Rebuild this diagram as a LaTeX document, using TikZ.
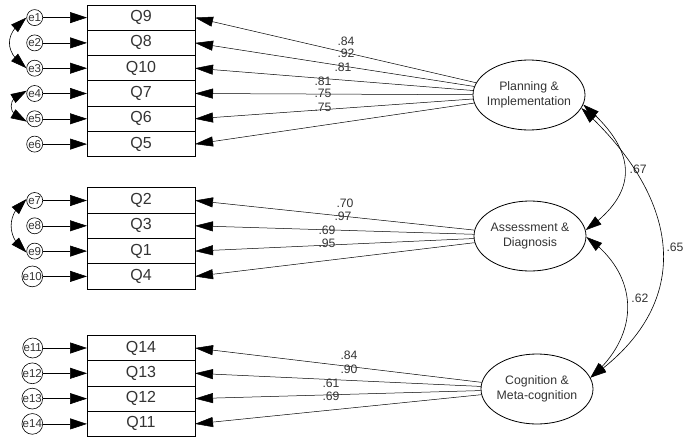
\documentclass[tikz,border=0pt]{standalone}
\usepackage{fontspec}
\setmainfont{Liberation Sans}
\usetikzlibrary{arrows.meta, bending, shapes, positioning}
\tikzstyle{indicador} = [draw, thick, rectangle, minimum width=108pt, minimum height=25.3pt, inner sep=0pt, outer sep=0pt, text=black!80, font=\fontsize{16}{16}\selectfont]
\tikzstyle{residuo} = [draw, semithick, circle, minimum size=16pt, inner sep=0pt, text=black!80, font=\fontsize{11.5}{11.5}\selectfont]
\tikzstyle{factor} = [draw, thick, ellipse, minimum width=112pt, minimum height=70pt, inner xsep=-4pt, inner ysep=0pt, align=center, text=black!80, font=\fontsize{12.3}{15.5}\selectfont]
\tikzstyle{carga} = [text=black!80, inner sep=0pt, font=\fontsize{12.2}{12.2}\selectfont]
\tikzstyle{errflecha} = [semithick, -{Triangle[length=17pt,width=11pt]}]
\tikzstyle{regresion} = [line width=0.5pt, -{Triangle[length=18pt,width=10pt]}]
\tikzstyle{covarianza} = [semithick, {Triangle[length=16pt,width=10pt]}-{Triangle[length=16pt,width=10pt]}]

\begin{document}
\begin{tikzpicture}[x=1pt, y=1pt]
	\useasboundingbox (0,0) rectangle (685,-439);
	% items
	\node[indicador] (q9) at (141,-17.6) {Q9};
	\foreach \q/\p in {8/9, 10/8, 7/10, 6/7, 5/6}
		\node[indicador, below=0pt of q\p] (q\q) {Q\q};
	\node[indicador] (q2) at (141,-200.5) {Q2};
	\foreach \q/\p in {3/2, 1/3, 4/1}
		\node[indicador, below=0pt of q\p] (q\q) {Q\q};
	\node[indicador] (q14) at (141,-348) {Q14};
	\foreach \q/\p in {13/14, 12/13, 11/12}
		\node[indicador, below=0pt of q\p] (q\q) {Q\q};
	% errores
	\foreach \q/\e in {9/1, 8/2, 10/3, 7/4, 6/5, 5/6, 2/7, 3/8, 1/9, 4/10, 14/11, 13/12, 12/13, 11/14}{
		\node[residuo, left=44pt of q\q] (e\e) {e\e};
		\draw[errflecha] (e\e) -- (q\q);
	}
	\draw[covarianza] (e1.west) to[out=215, in=145, looseness=1.4] (e3.west);
	\draw[covarianza] (e4.160) to[out=195, in=165, looseness=1.8] (e5.200);
	\draw[covarianza] (e7.170) to[out=215, in=145, looseness=1.2] (e9.190);
	% factores
	\node[factor] (plan) at (529,-95) {Planning \&\\Implementation};
	\node[factor] (eval) at (530,-236) {Assessment \&\\Diagnosis};
	\node[factor] (cogn) at (537,-389) {Cognition \&\\Meta-cognition};
	\foreach \q in {9, 8, 10, 7, 6, 5}
		\draw[regresion] (plan) -- (q\q.east);
	\foreach \q in {2, 3, 1, 4}
		\draw[regresion] (eval) -- (q\q.east);
	\foreach \q in {14, 13, 12, 11}
		\draw[regresion] (cogn) -- (q\q.east);
	% cargas
	\foreach \x/\y/\v [count=\i] in {346/41/.84, 346/53/.92, 343/67/.81, 323/81/.81, 323/93/.75, 323/107/.75,
		345/203/.70, 343/216/.97, 327/230/.69, 327/243/.95,
		349/355/.84, 349/369/.90, 331/383/.61, 331/396/.69}
		\node[carga] (c\i) at (\x,-\y) {\v};
	% correlaciones
	\draw[covarianza] (plan.-10) to[out=-40, in=35, looseness=1.4] node[carga, pos=0.5, right, inner sep=4pt] (r67) {.67} (eval.6);
	\draw[covarianza] (plan.-14) to[out=-42, in=35, looseness=1.25] node[carga, pos=0.5, right, inner sep=3pt] (r65) {.65} (cogn.12);
	\draw[covarianza] (eval.-1) to[out=-35, in=40, looseness=1.2] node[carga, pos=0.45, right, inner sep=4pt] (r62) {.62} (cogn.12);
\end{tikzpicture}
\end{document}
